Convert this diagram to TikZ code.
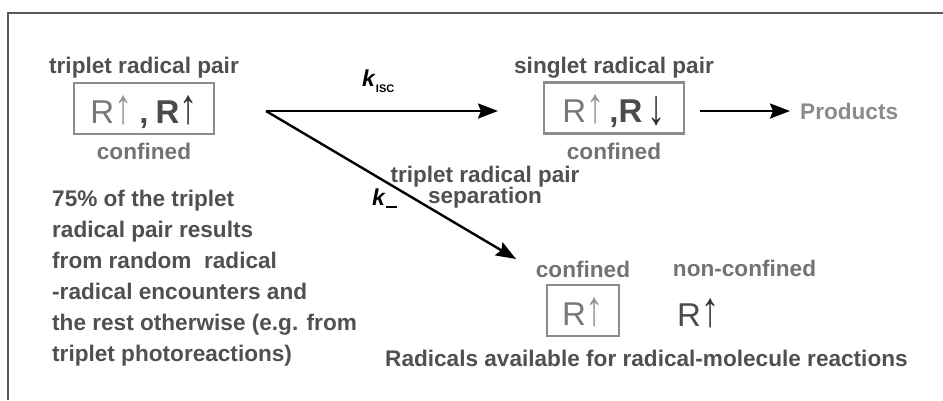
\documentclass[tikz,border=0pt]{standalone}
\usepackage{fontspec}
\setmainfont{Liberation Sans}
\usetikzlibrary{arrows.meta, positioning}
\definecolor{FrameGray}{RGB}{90,90,90}
\definecolor{LabelGray}{RGB}{80,80,80}
\definecolor{SoftGray}{RGB}{115,115,115}
\definecolor{ProdGray}{RGB}{140,140,140}
\definecolor{BoxGray}{RGB}{140,140,140}
\definecolor{RLight}{RGB}{120,120,120}
\definecolor{RDark}{RGB}{75,75,75}
\definecolor{ArrowLight}{RGB}{150,150,150}
\definecolor{ArrowDark}{RGB}{50,50,50}
\newcommand{\spinup}[1]{\textcolor{#1}{\scalebox{1.1}[1.5]{↑}}}
\newcommand{\spindown}[1]{\textcolor{#1}{\raisebox{-2pt}{\scalebox{1.1}[1.5]{↓}}}}
\newcommand{\rateconst}[1]{\textit{k}\raisebox{-6pt}{\fontsize{11}{11}\selectfont #1}}

\begin{document}
\begin{tikzpicture}[x=1pt, y=-1pt,
  lbl/.style={inner sep=0pt, text=LabelGray,
              font=\fontsize{22.6}{26}\selectfont\bfseries},
  soft/.style={lbl, text=SoftGray},
  pairbox/.style={draw=BoxGray, line width=2.6pt, inner sep=0pt,
                  minimum width=140pt, minimum height=51pt,
                  text height=29pt, text depth=0pt,
                  font=\fontsize{33}{33}\selectfont},
  arr/.style={-{Stealth[length=20pt, width=15pt, inset=3pt]}, line width=2.4pt},
]
\useasboundingbox (0,0) rectangle (943,400);
\draw[FrameGray, line width=2pt] (943,13) -- (8,13) -- (8,400);

% triplet pair
\node[pairbox] (tpair) at (144,108.5)
  {\textcolor{RLight}{R}\spinup{ArrowLight}\hspace{7pt}\textcolor{RDark}{\bfseries ,}\hspace{7pt}\textcolor{RDark}{\bfseries R}\spinup{ArrowDark}};
\node[lbl, above=3pt of tpair] (ttitle) {triplet radical pair};
\node[soft, below=8pt of tpair] (tconf) {confined};

\node[lbl, anchor=north west, align=left,
      font=\fontsize{22.6}{31}\selectfont\bfseries] (note) at (52,190)
  {75\% of the triplet\\radical pair results\\from random\ \ radical\\-radical encounters and\\the rest otherwise (e.g. from\\triplet photoreactions)};

% singlet pair
\node[pairbox] (spair) at (614,108)
  {\textcolor{RLight}{R}\spinup{ArrowLight}\hspace{5pt}\textcolor{RDark}{\bfseries ,}\textcolor{RDark}{\bfseries R}\hspace{5pt}\spindown{ArrowDark}};
\node[lbl, above=3pt of spair] (stitle) {singlet radical pair};
\node[soft, below=8pt of spair] (sconf) {confined};
\node[lbl, text=ProdGray, anchor=west] (prod) at (800,111) {Products};

% separated radicals
\node[pairbox, minimum width=72pt] (cbox) at (583,310.5)
  {\textcolor{RLight}{R}\spinup{ArrowLight}};
\node[soft, above=6pt of cbox] (cconf) {confined};
\node[inner sep=0pt, anchor=base west, font=\fontsize{33}{33}\selectfont] (free) at (677,326)
  {\textcolor{RDark}{R}\spinup{ArrowDark}};
\node[soft, anchor=base] (nconf) at (744.5,276) {non-confined};
\node[lbl, anchor=base west] (avail) at (385,366)
  {Radicals available for radical-molecule reactions};

% arrows and rates
\coordinate (fork) at (266,111);
\coordinate (iscend) at (498,111);
\coordinate (sepend) at (516,259);
\draw[arr] (fork) -- (iscend);
\draw[arr] (fork) -- (sepend);
\draw[arr, shorten <=15pt, shorten >=10pt] (spair.east |- prod.west) -- (prod.west);
\node[inner sep=0pt, anchor=base west, font=\fontsize{23}{26}\selectfont\bfseries] (kisc) at (362,86)
  {\rateconst{ISC}};
\node[inner sep=0pt, anchor=base west, font=\fontsize{23}{26}\selectfont\bfseries] (kminus) at (372,205)
  {\textit{k}\raisebox{-3pt}{\rule{11pt}{2.5pt}}};
\node[lbl, align=center, anchor=north, font=\fontsize{22.5}{21}\selectfont\bfseries] (seplbl) at (485,166)
  {triplet radical pair\\separation};
\end{tikzpicture}
\end{document}
